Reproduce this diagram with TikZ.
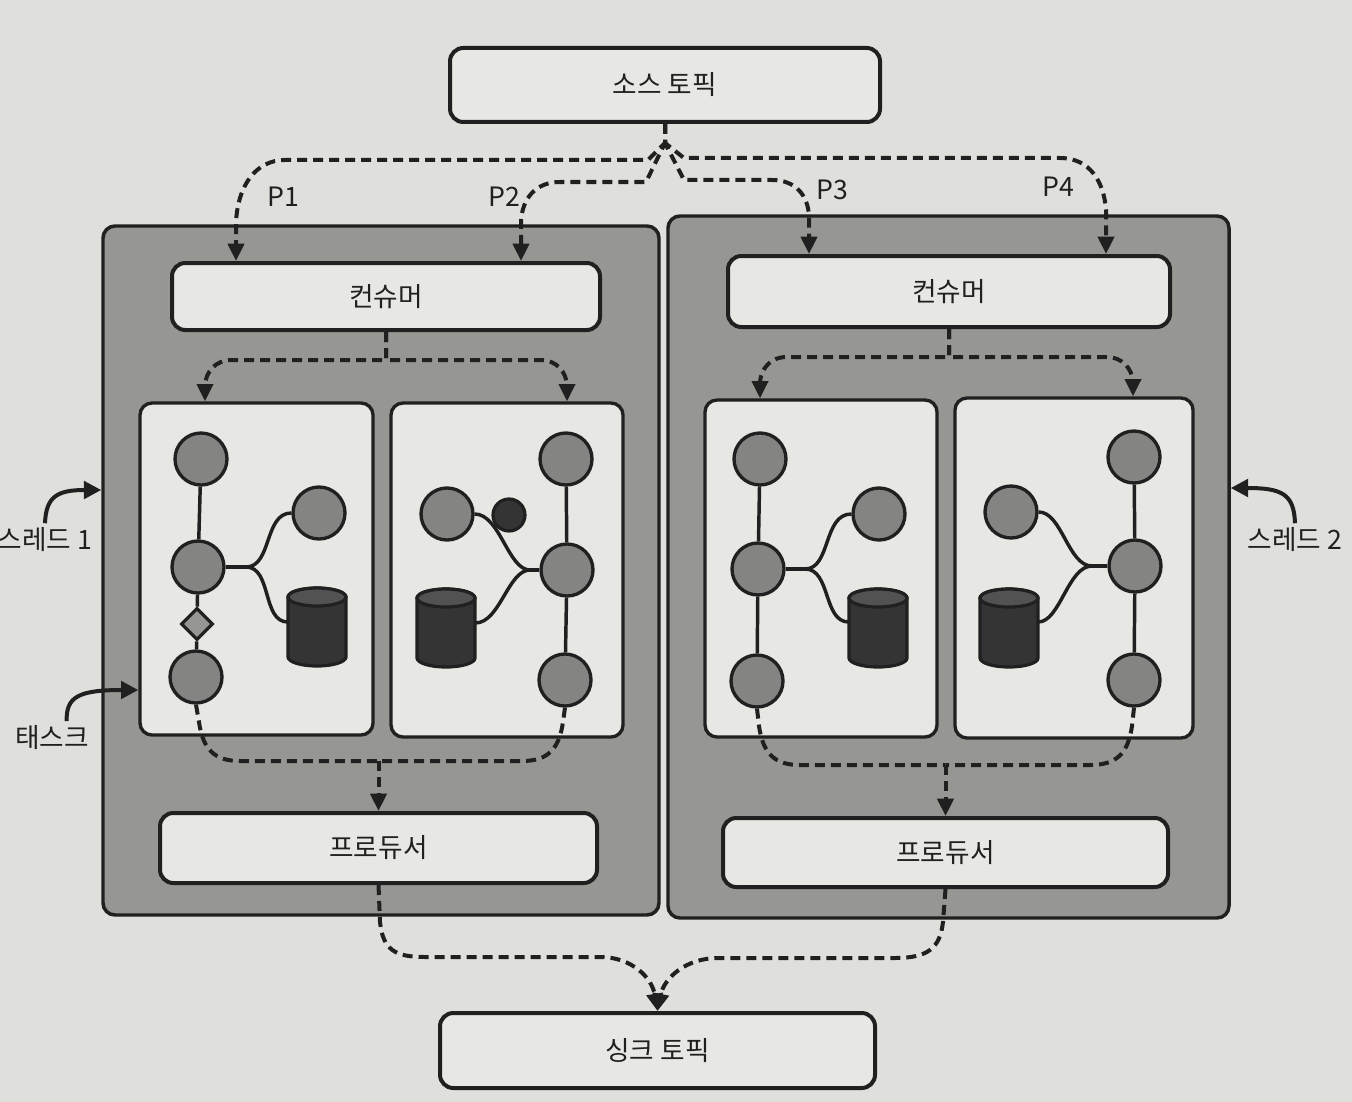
\documentclass[tikz,border=0pt]{standalone}
\usepackage{fontspec}
\setmainfont{Noto Sans CJK KR}
\usetikzlibrary{arrows.meta,shapes.geometric}

\definecolor{paper}{RGB}{223,223,220}
\definecolor{panel}{RGB}{231,231,228}
\definecolor{threadgray}{RGB}{150,150,147}
\definecolor{opgray}{RGB}{132,132,130}
\definecolor{ink}{RGB}{32,32,32}
\definecolor{storebody}{RGB}{52,52,52}
\definecolor{storetop}{RGB}{82,82,82}

% database cylinder: name, x, y
\newcommand{\dbstore}[3]{%
  \node[storebox] (#1) at (#2,#3) {};
  \filldraw[storeline,fill=storebody] (#2,#3) ++(-29,-30) -- ++(0,60)
    arc[start angle=180,end angle=0,x radius=29,y radius=9] -- ++(0,-60)
    arc[start angle=0,end angle=-180,x radius=29,y radius=9] -- cycle;
  \filldraw[storeline,fill=storetop] (#2,#3) ++(0,-30) ellipse[x radius=29,y radius=9];
}

\begin{document}
\begin{tikzpicture}[x=0.75pt,y=0.75pt,yscale=-1,xscale=1,
  every node/.style={font=\fontsize{20}{24}\selectfont,text=ink},
  thread/.style={draw=ink,line width=2.6pt,fill=threadgray,rounded corners=9pt,inner sep=0pt},
  bar/.style={draw=ink,line width=3pt,fill=panel,rounded corners=10pt,inner sep=0pt},
  task/.style={draw=ink,line width=2.5pt,fill=panel,rounded corners=9pt,inner sep=0pt},
  op/.style={circle,draw=ink,line width=2.5pt,fill=opgray,minimum size=39pt,inner sep=0pt},
  storebox/.style={rectangle,minimum width=43.5pt,minimum height=45pt,inner sep=0pt},
  storeline/.style={draw=ink,line width=2.4pt},
  link/.style={draw=ink,line width=2.6pt},
  flowline/.style={draw=ink,line width=3pt,dash pattern=on 7.5pt off 4.5pt},
  flow/.style={flowline,-{Triangle[length=13pt,width=12pt]}},
  pointer/.style={draw=ink,line width=3pt,-{Triangle[length=13pt,width=13pt]}}]
\useasboundingbox (0,0) rectangle (1352,1102);
\fill[paper] (0,0) rectangle (1352,1102);

%Shape: Thread boxes
\node[thread,minimum width=417pt,minimum height=516.75pt] (thread1) at (381,570.5) {};
\node[thread,minimum width=420.75pt,minimum height=526.5pt] (thread2) at (948.5,567) {};

%Shape: Topics
\node[bar,minimum width=322.5pt,minimum height=55.5pt] (src) at (665,85) {소스 토픽};
\node[bar,minimum width=326.25pt,minimum height=56.25pt] (sink) at (657.5,1050.5) {싱크 토픽};

%Shape: Consumers and producers
\node[bar,minimum width=321pt,minimum height=50.25pt] (con1) at (386,296.5) {컨슈머};
\node[bar,minimum width=331.5pt,minimum height=53.25pt] (con2) at (949,291.5) {컨슈머};
\node[bar,minimum width=327.75pt,minimum height=52.5pt] (pro1) at (378.5,848) {프로듀서};
\node[bar,minimum width=333.75pt,minimum height=51.75pt] (pro2) at (945.5,852.5) {프로듀서};

%Shape: Tasks
\node[task,minimum width=174.75pt,minimum height=249pt] (t1) at (256.5,569) {};
\node[task,minimum width=174pt,minimum height=250.5pt] (t2) at (507,570) {};
\node[task,minimum width=174pt,minimum height=252.75pt] (t3) at (821,568.5) {};
\node[task,minimum width=178.5pt,minimum height=255pt] (t4) at (1074,568) {};

% task 1
\node[op] (a1) at (201,459) {};
\node[op] (a2) at (198,567) {};
\node[op] (a3) at (196,677) {};
\node[op] (a4) at (319,513) {};
\dbstore{a5}{317}{627}
\node[diamond,draw=ink,line width=2.4pt,fill=threadgray,minimum width=24pt,minimum height=24pt,inner sep=0pt] (ad) at (197,624) {};
\coordinate (ja) at (246,567);
\draw[link] (a1) -- (a2);
\draw[link] (a2) -- (ad) -- (a3);
\draw[link] (a2) -- (ja);
\draw[link] (ja) .. controls (272,567) and (264,513) .. (a4.west);
\draw[link] (ja) .. controls (272,567) and (262,622) .. (a5.west |- 0,622);

% task 2
\node[op] (b1) at (566,459) {};
\node[op] (b2) at (567,570) {};
\node[op] (b3) at (565,680) {};
\node[op] (b4) at (447,514) {};
\dbstore{b5}{446}{628}
\coordinate (jb) at (530,570);
\draw[link] (b1) -- (b2) -- (b3);
\draw[link] (b2) -- (jb);
\draw[link] (jb) .. controls (508,570) and (500,514) .. (b4.east);
\draw[link] (jb) .. controls (508,570) and (500,623) .. (b5.east |- 0,623);
\node[circle,draw=ink,line width=2.4pt,fill=storebody,minimum size=24pt,inner sep=0pt] (bs) at (509,515) {};

% task 3
\node[op] (c1) at (760,459) {};
\node[op] (c2) at (758,569) {};
\node[op] (c3) at (757,681) {};
\node[op] (c4) at (879,514) {};
\dbstore{c5}{878}{628}
\coordinate (jc) at (805,569);
\draw[link] (c1) -- (c2) -- (c3);
\draw[link] (c2) -- (jc);
\draw[link] (jc) .. controls (831,569) and (823,514) .. (c4.west);
\draw[link] (jc) .. controls (831,569) and (823,622) .. (c5.west |- 0,622);

% task 4
\node[op] (d1) at (1134,457) {};
\node[op] (d2) at (1135,566) {};
\node[op] (d3) at (1134,680) {};
\node[op] (d4) at (1011,512) {};
\dbstore{d5}{1009}{628}
\coordinate (jd) at (1092,566);
\draw[link] (d1) -- (d2) -- (d3);
\draw[link] (d2) -- (jd);
\draw[link] (jd) .. controls (1068,566) and (1062,512) .. (d4.east);
\draw[link] (jd) .. controls (1068,566) and (1060,622) .. (d5.east |- 0,622);

%Dashed: source topic to consumers
\coordinate (split) at (665,143);
\coordinate (p1) at (236,222);
\coordinate (p2) at (521,222);
\coordinate (p3) at (809,216);
\coordinate (p4) at (1106,210);
\draw[flow] (src.south) -- (split) -- (648,160) -- (285,160) .. controls (256,160) and (238,185) .. (p1) -- (p1 |- con1.north);
\draw[flow] (src.south) -- (split) -- (646,182) -- (560,182) .. controls (536,182) and (522,198) .. (p2) -- (p2 |- con1.north);
\draw[flow] (src.south) -- (split) -- (684,180) -- (772,180) .. controls (796,180) and (808,196) .. (p3) -- (p3 |- con2.north);
\draw[flow] (src.south) -- (split) -- (684,158) -- (1060,158) .. controls (1090,158) and (1104,182) .. (p4) -- (p4 |- con2.north);

%Dashed: consumers to tasks
\coordinate (k1) at (386,360);
\coordinate (q1) at (205,385);
\coordinate (q2) at (567,385);
\draw[flow] (con1.south) -- (k1) -- (232,360) .. controls (215,360) and (206,372) .. (q1) -- (q1 |- t1.north);
\draw[flow] (con1.south) -- (k1) -- (540,360) .. controls (557,360) and (566,372) .. (q2) -- (q2 |- t2.north);
\coordinate (k2) at (949,357);
\coordinate (q3) at (760,382);
\coordinate (q4) at (1133,382);
\draw[flow] (con2.south) -- (k2) -- (787,357) .. controls (770,357) and (761,369) .. (q3) -- (q3 |- t3.north);
\draw[flow] (con2.south) -- (k2) -- (1106,357) .. controls (1123,357) and (1132,369) .. (q4) -- (q4 |- t4.north);

%Dashed: tasks to producers
\coordinate (m1) at (378.5,761);
\draw[flowline] (a3.south) -- (199,722) .. controls (203,750) and (215,761) .. (240,761) -- (m1);
\draw[flowline] (b3.south) -- (563,722) .. controls (559,750) and (547,761) .. (522,761) -- (m1);
\draw[flow] (m1) -- (pro1.north);
\coordinate (m2) at (945.5,765);
\draw[flowline] (c3.south) -- (759,726) .. controls (763,754) and (775,765) .. (800,765) -- (m2);
\draw[flowline] (d3.south) -- (1132,726) .. controls (1128,754) and (1116,765) .. (1090,765) -- (m2);
\draw[flow] (m2) -- (pro2.north);

%Dashed: producers to sink topic
\draw[flow] (pro1.south) -- (380,922) .. controls (383,950) and (395,957) .. (425,957) -- (600,957) .. controls (632,957) and (652,978) .. (sink.north);
\draw[flow] (pro2.south) -- (943,922) .. controls (940,948) and (928,958) .. (895,958) -- (718,958) .. controls (686,958) and (664,978) .. (sink.north);

% Text Node
\node (lp1) at (283,197) {P1};
\node (lp2) at (504,197) {P2};
\node (lp3) at (832,190) {P3};
\node (lp4) at (1058,187) {P4};
\node (lbl1) at (45,540) {스레드 1};
\node (lbl2) at (1295,540) {스레드 2};
\node (lbl3) at (52,738) {태스크};

%Pointers
\draw[pointer] (lbl1.north) .. controls (46,496) and (58,490) .. (thread1.west |- 0,490);
\draw[pointer] (lbl2.north) .. controls (1294,494) and (1282,488) .. (thread2.east |- 0,488);
\draw[pointer] ([xshift=11pt]lbl3.north) .. controls (66,697) and (78,690) .. (t1.west |- 0,690);

\end{tikzpicture}
\end{document}
